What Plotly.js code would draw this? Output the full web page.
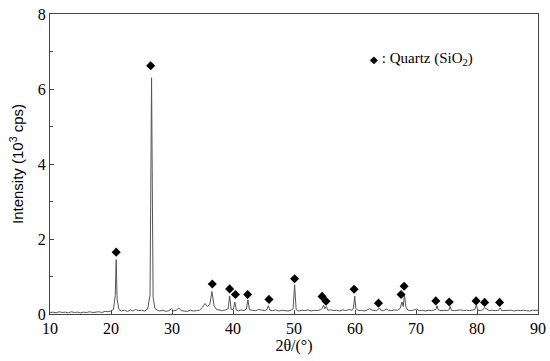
<!DOCTYPE html>
<html>
<head>
<meta charset="utf-8">
<script src="https://cdn.plot.ly/plotly-3.0.1.min.js"></script>
<style>body{margin:0;background:#fff;}#xrd{width:550px;height:361px;}</style>
</head>
<body>
<div id="xrd"></div>
<script>
// diffraction pattern, 2theta in degrees, intensity in 10^3 cps
var twoTheta = [
    10, 10.5, 11, 11.5, 12, 12.5, 13, 13.5, 14, 14.5,
    15, 15.5, 16, 16.5, 17, 17.5, 18, 18.5, 19, 19.5,
    20, 20.4, 20.7, 20.85, 21.0, 21.3, 21.7, 22.2, 22.7, 23.2,
    23.6, 24.0, 24.5, 25.0, 25.5, 26.0, 26.4, 26.65, 26.9, 27.2,
    27.6, 28.0, 28.5, 29.0, 29.5, 29.9, 30.3, 30.7, 31.1, 31.5,
    32.0, 32.5, 33.0, 33.5, 34.0, 34.5, 35.0, 35.4, 35.8, 36.2,
    36.55, 36.9, 37.3, 37.8, 38.3, 38.8, 39.2, 39.45, 39.7, 40.05,
    40.3, 40.55, 40.9, 41.3, 41.8, 42.2, 42.45, 42.7, 43.2, 43.7,
    44.2, 44.7, 45.2, 45.55, 45.8, 46.05, 46.5, 47.0, 47.5, 48.0,
    48.5, 49.0, 49.5, 49.85, 50.1, 50.35, 50.8, 51.3, 51.8, 52.3,
    52.8, 53.3, 53.8, 54.3, 54.65, 54.85, 55.05, 55.3, 55.55, 56.0,
    56.5, 57.0, 57.5, 58.0, 58.5, 59.0, 59.5, 59.75, 59.95, 60.15,
    60.6, 61.1, 61.6, 62.0, 62.4, 62.9, 63.4, 63.75, 64.0, 64.25,
    64.7, 65.1, 65.5, 66.0, 66.5, 67.0, 67.4, 67.7, 67.9, 68.1,
    68.35, 68.7, 69.2, 69.7, 70.1, 70.5, 71.0, 71.5, 72.0, 72.5,
    73.0, 73.25, 73.45, 73.65, 74.1, 74.6, 75.1, 75.4, 75.6, 75.8,
    76.3, 76.8, 77.3, 77.8, 78.3, 78.8, 79.3, 79.65, 79.9, 80.15,
    80.6, 81.0, 81.2, 81.45, 82.0, 82.5, 83.0, 83.55, 83.8, 84.05,
    84.6, 85.1, 85.6, 86.1, 86.6, 87.1, 87.6, 88.1, 88.6, 89.1,
    89.6, 90
];
var intensity = [
    0.04, 0.05, 0.03, 0.06, 0.04, 0.05, 0.03, 0.06, 0.04, 0.05,
    0.03, 0.05, 0.04, 0.06, 0.04, 0.05, 0.06, 0.04, 0.07, 0.06,
    0.08, 0.12, 0.5, 1.45, 0.4, 0.12, 0.08, 0.1, 0.07, 0.11,
    0.08, 0.12, 0.09, 0.1, 0.08, 0.13, 0.5, 6.3, 0.45, 0.15,
    0.1, 0.08, 0.1, 0.07, 0.09, 0.14, 0.08, 0.1, 0.16, 0.09,
    0.08, 0.07, 0.1, 0.08, 0.09, 0.1, 0.18, 0.28, 0.2, 0.25,
    0.6, 0.22, 0.12, 0.1, 0.09, 0.11, 0.14, 0.48, 0.12, 0.12,
    0.32, 0.1, 0.09, 0.11, 0.09, 0.13, 0.38, 0.11, 0.1, 0.09,
    0.12, 0.1, 0.09, 0.12, 0.22, 0.1, 0.09, 0.11, 0.08, 0.1,
    0.09, 0.08, 0.1, 0.14, 0.78, 0.12, 0.08, 0.1, 0.09, 0.11,
    0.08, 0.1, 0.09, 0.11, 0.15, 0.24, 0.14, 0.2, 0.1, 0.11,
    0.09, 0.1, 0.08, 0.11, 0.09, 0.12, 0.1, 0.16, 0.48, 0.14,
    0.09, 0.1, 0.08, 0.1, 0.14, 0.1, 0.09, 0.11, 0.16, 0.1,
    0.09, 0.13, 0.1, 0.09, 0.11, 0.1, 0.15, 0.32, 0.2, 0.52,
    0.18, 0.1, 0.09, 0.11, 0.13, 0.09, 0.1, 0.08, 0.1, 0.09,
    0.1, 0.12, 0.22, 0.11, 0.09, 0.1, 0.09, 0.11, 0.2, 0.1,
    0.09, 0.1, 0.11, 0.09, 0.1, 0.09, 0.1, 0.12, 0.24, 0.1,
    0.09, 0.12, 0.17, 0.14, 0.09, 0.1, 0.09, 0.1, 0.16, 0.09,
    0.1, 0.09, 0.1, 0.08, 0.1, 0.09, 0.1, 0.09, 0.08, 0.1,
    0.09, 0.1
];

// quartz markers above the peaks
var quartzX = [20.85, 26.5, 36.6, 39.45, 40.4, 42.4, 45.9, 50.1, 54.6, 55.25,
    59.85, 63.85, 67.55, 68.05, 73.25, 75.45, 79.85, 81.25, 83.7];
var quartzY = [1.65, 6.62, 0.8, 0.67, 0.52, 0.52, 0.39, 0.94, 0.47, 0.34,
    0.66, 0.29, 0.52, 0.74, 0.35, 0.32, 0.35, 0.31, 0.31];

var pattern = {
    x: twoTheta,
    y: intensity,
    type: 'scatter',
    mode: 'lines',
    line: {color: '#555', width: 1},
    hoverinfo: 'skip'
};

var markers = {
    x: quartzX,
    y: quartzY,
    type: 'scatter',
    mode: 'markers',
    marker: {symbol: 'diamond', size: 7, color: '#000'}
};

var serif = 'Liberation Serif, Times New Roman, serif';

var layout = {
    width: 550,
    height: 361,
    margin: {l: 50, r: 12, t: 14, b: 47},
    showlegend: false,
    plot_bgcolor: '#fff',
    paper_bgcolor: '#fff',
    xaxis: {
        range: [10, 90],
        dtick: 10,
        ticks: 'inside',
        ticklen: 4,
        showgrid: false,
        zeroline: false,
        showline: true,
        mirror: true,
        linecolor: '#444',
        linewidth: 1,
        tickfont: {family: serif, size: 16, color: '#000'},
        title: {text: '2θ/(°)', font: {family: serif, size: 16, color: '#000'}, standoff: 2}
    },
    yaxis: {
        range: [0, 8],
        dtick: 2,
        ticks: 'inside',
        ticklen: 4,
        minor: {dtick: 1, ticks: 'inside', ticklen: 3},
        showgrid: false,
        zeroline: false,
        showline: true,
        mirror: true,
        linecolor: '#444',
        linewidth: 1,
        tickfont: {family: serif, size: 16, color: '#000'},
        title: {text: 'Intensity (10<sup>3</sup> cps)', font: {family: 'Liberation Sans, Arial, sans-serif', size: 15, color: '#000'}, standoff: 10}
    },
    annotations: [{
        xref: 'paper', yref: 'paper',
        x: 0.652, y: 0.85,
        xanchor: 'left', yanchor: 'middle',
        showarrow: false,
        text: '<span style="font-size:10px">◆</span> : Quartz (SiO<sub>2</sub>)',
        font: {family: serif, size: 15, color: '#000'}
    }]
};

Plotly.newPlot('xrd', [pattern, markers], layout, {staticPlot: true});
</script>
</body>
</html>
